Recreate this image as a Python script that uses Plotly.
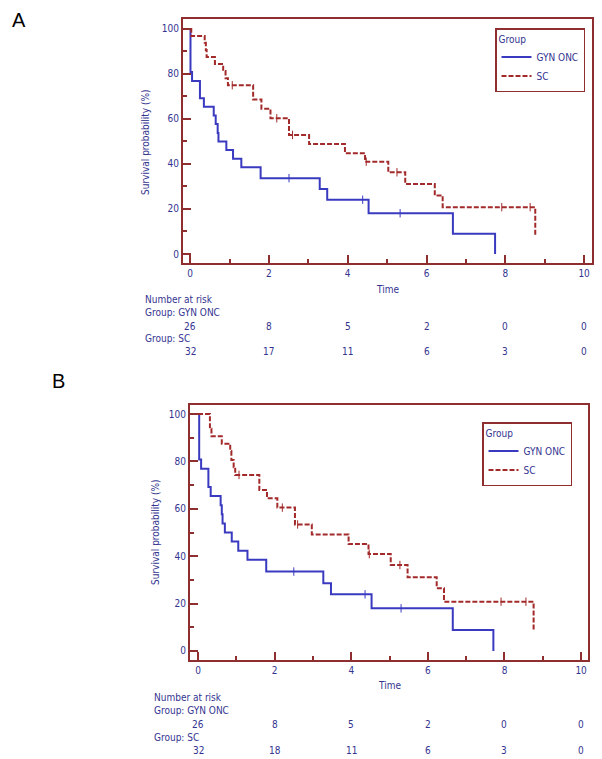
import plotly.graph_objects as go

# Kaplan-Meier steps (time, survival %)
# Panel A
a_gyn_t = [0, 0.01, 0.05, 0.25, 0.35, 0.60, 0.65, 0.70, 0.72, 0.92, 1.09, 1.30, 1.79, 3.29, 3.48, 4.53, 6.67, 7.74]
a_gyn_s = [100, 80.8, 76.9, 69.2, 65.4, 61.5, 57.7, 53.8, 50.0, 46.2, 42.3, 38.5, 33.7, 28.9, 24.1, 18.1, 9.0, 0]
a_gyn_cens = [2.51, 4.38, 5.33]
a_sc_t = [0, 0.03, 0.37, 0.40, 0.42, 0.63, 0.84, 0.90, 0.96, 1.60, 1.81, 2.04, 2.51, 3.02, 3.93, 4.44, 5.03, 5.46, 6.21, 6.41, 8.76]
a_sc_s = [100, 96.9, 93.8, 90.6, 87.5, 84.4, 81.3, 78.1, 75.0, 68.6, 64.5, 60.3, 52.9, 48.9, 44.8, 41.0, 36.3, 31.1, 26.0, 20.8, 8.4]
a_sc_cens = [1.07, 2.20, 2.60, 4.47, 5.25, 7.91, 8.63]

# Panel B
b_gyn_t = [0, 0.03, 0.08, 0.27, 0.33, 0.59, 0.62, 0.64, 0.70, 0.88, 1.05, 1.29, 1.78, 3.27, 3.47, 4.53, 6.65, 7.71]
b_gyn_s = [100, 80.8, 76.9, 69.2, 65.4, 61.5, 57.7, 53.8, 50.0, 46.2, 42.3, 38.5, 33.5, 28.6, 23.9, 18.0, 8.9, 0]
b_gyn_cens = [2.50, 4.36, 5.30]
b_sc_t = [0, 0.31, 0.35, 0.62, 0.84, 0.87, 0.93, 0.97, 1.60, 1.80, 2.07, 2.53, 2.97, 3.93, 4.45, 5.03, 5.47, 6.23, 6.42, 8.76]
b_sc_s = [100, 93.8, 90.6, 87.5, 84.4, 80.6, 77.5, 74.3, 67.9, 64.4, 60.5, 53.4, 49.2, 45.1, 40.9, 36.3, 31.1, 26.5, 20.8, 8.9]
b_sc_cens = [1.07, 2.20, 2.60, 4.47, 5.27, 7.91, 8.56]

# Number at risk
risk_times = [0, 2, 4, 6, 8, 10]
a_risk_gyn = [26, 8, 5, 2, 0, 0]
a_risk_sc = [32, 17, 11, 6, 3, 0]
b_risk_gyn = [26, 8, 5, 2, 0, 0]
b_risk_sc = [32, 18, 11, 6, 3, 0]

W, H = 602, 759
BLUE = '#3a3ac0'
RED = '#a32a2a'
AXIS = '#8e2e2e'
TXT = '#343490'
FONT = 'Liberation Sans Narrow, DejaVu Sans Condensed, Liberation Sans, Arial'


def px(x):
    return x / W


def py(y):
    return 1 - y / H


def step_at(ts, ss, x):
    i = max(k for k, t in enumerate(ts) if t <= x)
    return ss[i]


fig = go.Figure()

panels = [
    dict(xa='x', ya='y', leg='legend', gt=a_gyn_t, gs=a_gyn_s, gc=a_gyn_cens,
         st=a_sc_t, ss=a_sc_s, sc=a_sc_cens),
    dict(xa='x2', ya='y2', leg='legend2', gt=b_gyn_t, gs=b_gyn_s, gc=b_gyn_cens,
         st=b_sc_t, ss=b_sc_s, sc=b_sc_cens),
]

for p in panels:
    fig.add_trace(go.Scatter(x=p['gt'], y=p['gs'], mode='lines', name='GYN ONC',
                             line=dict(color=BLUE, width=2, shape='hv'),
                             xaxis=p['xa'], yaxis=p['ya'], legend=p['leg']))
    fig.add_trace(go.Scatter(x=p['st'], y=p['ss'], mode='lines', name='SC',
                             line=dict(color=RED, width=2, shape='hv', dash='5px,2px'),
                             xaxis=p['xa'], yaxis=p['ya'], legend=p['leg']))
    # censoring marks
    fig.add_trace(go.Scatter(x=p['gc'], y=[step_at(p['gt'], p['gs'], c) for c in p['gc']],
                             mode='markers', showlegend=False,
                             marker=dict(symbol='line-ns-open', size=6, color=BLUE,
                                         line=dict(color=BLUE, width=1)),
                             xaxis=p['xa'], yaxis=p['ya']))
    fig.add_trace(go.Scatter(x=p['sc'], y=[step_at(p['st'], p['ss'], c) for c in p['sc']],
                             mode='markers', showlegend=False,
                             marker=dict(symbol='line-ns-open', size=6, color=RED,
                                         line=dict(color=RED, width=1)),
                             xaxis=p['xa'], yaxis=p['ya']))

ax_common = dict(showline=True, mirror=True, linecolor=AXIS, linewidth=2,
                 ticks='inside', ticklen=8, tickwidth=2, tickcolor=AXIS,
                 showgrid=False, zeroline=False,
                 tickfont=dict(family=FONT, size=10, color=TXT))
x_common = dict(ax_common, tickvals=[0, 2, 4, 6, 8, 10],
                minor=dict(dtick=1, ticks='inside', ticklen=4, tickwidth=1.5, tickcolor=AXIS))
y_common = dict(ax_common, tickvals=[0, 20, 40, 60, 80, 100],
                minor=dict(dtick=10, ticks='inside', ticklen=4, tickwidth=1.5, tickcolor=AXIS))

leg_common = dict(bgcolor='white', bordercolor=AXIS, borderwidth=1.5,
                  font=dict(family=FONT, size=10, color=TXT),
                  title=dict(text='Group', font=dict(family=FONT, size=10, color=TXT)),
                  itemwidth=30, tracegroupgap=0, xanchor='right', yanchor='top')

fig.update_layout(
    width=W, height=H,
    margin=dict(l=0, r=0, t=0, b=0),
    paper_bgcolor='white', plot_bgcolor='white',
    xaxis=dict(x_common, domain=[px(183), px(592)], range=[-0.18, 10.2], anchor='y'),
    yaxis=dict(y_common, domain=[py(263), py(19)], range=[-4.0, 104.4], anchor='x'),
    xaxis2=dict(x_common, domain=[px(190), px(588)], range=[-0.21, 10.18], anchor='y2'),
    yaxis2=dict(y_common, domain=[py(660), py(405)], range=[-3.8, 103.8], anchor='x2'),
    legend=dict(leg_common, x=px(585), y=py(28)),
    legend2=dict(leg_common, x=px(572), y=py(422)),
)

txt = dict(family=FONT, size=10, color=TXT)
ann = []
# panel letters
ann.append(dict(text='A', x=px(10), y=py(20), xref='paper', yref='paper', showarrow=False,
                xanchor='left', yanchor='middle', font=dict(family='Liberation Sans', size=20, color='black')))
ann.append(dict(text='B', x=px(50), y=py(381), xref='paper', yref='paper', showarrow=False,
                xanchor='left', yanchor='middle', font=dict(family='Liberation Sans', size=20, color='black')))

rows = [
    dict(xa='x', ytitle_x=145, ytitle_y=142, time_y=290, lab_x=143,
         ys=[299, 312, 326, 338, 351], gyn=a_risk_gyn, sc=a_risk_sc, xc=387),
    dict(xa='x2', ytitle_x=155, ytitle_y=532, time_y=685, lab_x=152,
         ys=[697, 710, 724, 737, 750], gyn=b_risk_gyn, sc=b_risk_sc, xc=389),
]
for r in rows:
    ann.append(dict(text='Survival probability (%)', textangle=-90, x=px(r['ytitle_x']), y=py(r['ytitle_y']),
                    xref='paper', yref='paper', xanchor='center', yanchor='middle',
                    showarrow=False, font=txt))
    ann.append(dict(text='Time', x=px(r['xc']), y=py(r['time_y']), xref='paper', yref='paper',
                    xanchor='center', yanchor='middle', showarrow=False, font=txt))
    for label, yy in zip(['Number at risk', 'Group: GYN ONC', 'Group: SC'],
                         [r['ys'][0], r['ys'][1], r['ys'][3]]):
        ann.append(dict(text=label, x=px(r['lab_x']), y=py(yy), xref='paper', yref='paper',
                        xanchor='left', yanchor='middle', showarrow=False, font=txt))
    for vals, yy in [(r['gyn'], r['ys'][2]), (r['sc'], r['ys'][4])]:
        for t, v in zip(risk_times, vals):
            ann.append(dict(text=str(v), x=t, y=py(yy), xref=r['xa'], yref='paper',
                            xanchor='center', yanchor='middle', showarrow=False, font=txt))

fig.update_layout(annotations=ann)

# drop the default 8px page margin so the figure sits at the window origin
fig.write_html("out.html", config={'displayModeBar': False},
               post_script="document.body.style.margin='0';")
